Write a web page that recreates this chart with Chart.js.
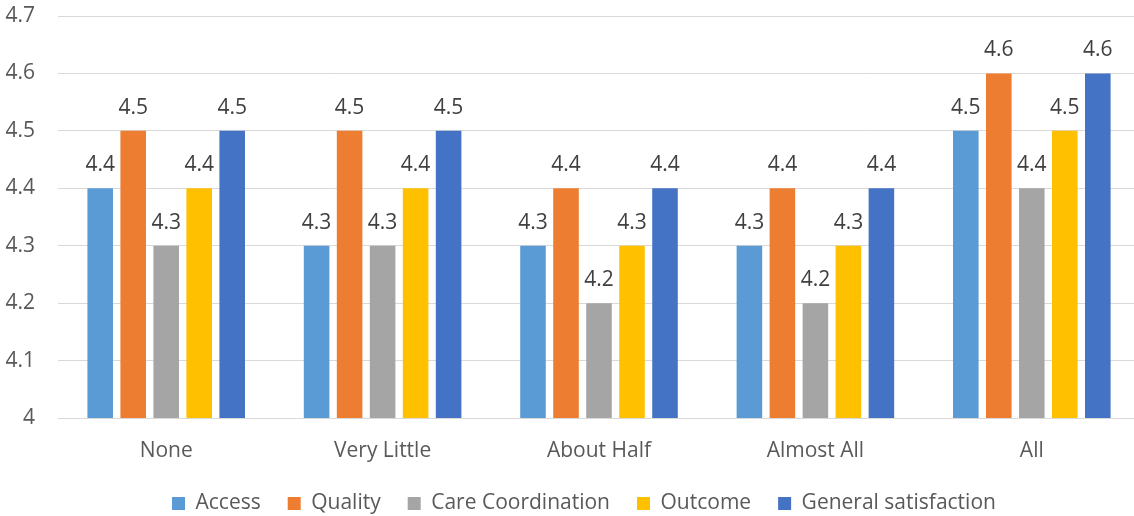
<!DOCTYPE html>
<html>
<head>
<meta charset="utf-8">
<script src="https://cdn.jsdelivr.net/npm/chart.js@4.4.1/dist/chart.umd.min.js"></script>
<style>
  html, body { margin: 0; padding: 0; background: #ffffff; overflow: hidden; }
  #wrap { width: 1140px; height: 516px; position: relative; }
</style>
</head>
<body>
<div id="wrap"><canvas id="chart"></canvas></div>
<script>
// Share of care received vs. average satisfaction scores
const categories = ['None', 'Very Little', 'About Half', 'Almost All', 'All'];
const access = [4.4, 4.3, 4.3, 4.3, 4.5];
const quality = [4.5, 4.5, 4.4, 4.4, 4.6];
const careCoordination = [4.3, 4.3, 4.2, 4.2, 4.4];
const outcome = [4.4, 4.4, 4.3, 4.3, 4.5];
const generalSatisfaction = [4.5, 4.5, 4.4, 4.4, 4.6];
const seriesNames = ['Access', 'Quality', 'Care Coordination', 'Outcome', 'General satisfaction'];
const seriesColors = ['#5B9BD5', '#ED7D31', '#A5A5A5', '#FFC000', '#4472C4'];
const yMin = 4;
const yMax = 4.7;
const yStep = 0.1;

const FONT = '"Open Sans", Lato, sans-serif';
const FONT_SIZE = 21;
const LEGEND_PAD = 27;
const LEGEND_BOX = 13;
const BELOW_PLOT = 98;    // x labels + legend band under the plot
const X_AXIS_H = 60;
const LEGEND_H = FONT_SIZE + LEGEND_PAD + 10;

const seriesValues = [access, quality, careCoordination, outcome, generalSatisfaction];
const datasets = seriesValues.map((vals, i) => ({
  label: seriesNames[i],
  data: vals,
  backgroundColor: seriesColors[i],
  borderWidth: 0,
  barPercentage: 0.775,
  categoryPercentage: 0.7625
}));

// value labels above each bar
const barValueLabels = {
  id: 'barValueLabels',
  afterDatasetsDraw(chart) {
    const ctx = chart.ctx;
    ctx.save();
    ctx.font = FONT_SIZE + 'px ' + FONT;
    ctx.fillStyle = '#404040';
    ctx.textAlign = 'center';
    ctx.textBaseline = 'alphabetic';
    chart.data.datasets.forEach((ds, i) => {
      const meta = chart.getDatasetMeta(i);
      meta.data.forEach((bar, j) => {
        ctx.fillText(ds.data[j].toFixed(1), bar.x, bar.y - 17);
      });
    });
    ctx.restore();
  }
};

// place the legend row
const legendPlacement = {
  id: 'legendPlacement',
  afterLayout(chart) {
    const lg = chart.legend;
    if (!lg) return;
    lg.left = 172 - LEGEND_PAD;
    lg.right = 1600;
    lg.top = 493 - LEGEND_PAD;
  }
};

new Chart(document.getElementById('chart'), {
  type: 'bar',
  data: { labels: categories, datasets },
  plugins: [barValueLabels, legendPlacement],
  options: {
    responsive: true,
    maintainAspectRatio: false,
    animation: false,
    layout: { padding: { top: 16, right: 0, bottom: BELOW_PLOT - X_AXIS_H - LEGEND_H, left: 0 } },
    scales: {
      x: {
        afterFit(axis) {
          axis.height = X_AXIS_H;
          axis.paddingLeft = 0;
          axis.paddingRight = 0;
        },
        grid: { display: false, drawTicks: false },
        border: { display: true, color: '#D9D9D9', width: 1 },
        ticks: { color: '#595959', font: { family: FONT, size: FONT_SIZE }, padding: 20 }
      },
      y: {
        min: yMin,
        max: yMax,
        afterFit(axis) {
          axis.width = 58;
          axis.paddingTop = 0;
          axis.paddingBottom = 0;
        },
        grid: { color: '#D9D9D9', lineWidth: 1, drawTicks: false },
        border: { display: false },
        ticks: {
          stepSize: yStep,
          padding: 23,
          color: '#595959',
          font: { family: FONT, size: FONT_SIZE },
          callback: (v) => String(Number(v.toFixed(1)))
        }
      }
    },
    plugins: {
      legend: {
        position: 'bottom',
        align: 'start',
        labels: {
          boxWidth: LEGEND_BOX,
          boxHeight: LEGEND_BOX,
          padding: LEGEND_PAD,
          color: '#595959',
          font: { family: FONT, size: FONT_SIZE }
        }
      },
      tooltip: { enabled: false }
    }
  }
});
</script>
</body>
</html>
